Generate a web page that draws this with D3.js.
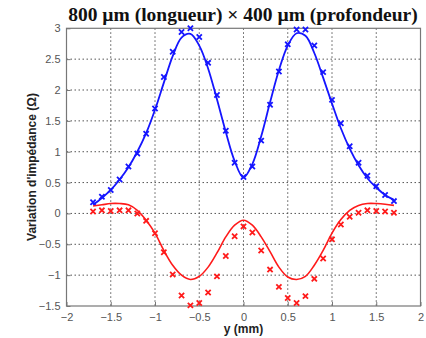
<!DOCTYPE html>
<html>
<head>
<meta charset="utf-8">
<script src="https://cdn.jsdelivr.net/npm/d3@7"></script>
<style>
html,body{margin:0;padding:0;background:#fff;}
svg{display:block;}
</style>
</head>
<body>
<svg id="chart" width="426" height="338"></svg>
<script>
const title = "800 µm (longueur) × 400 µm (profondeur)";
const xLabel = "y (mm)";
const yLabel = "Variation d'impédance (Ω)";
const xTicks = [-2, -1.5, -1, -0.5, 0, 0.5, 1, 1.5, 2];
const yTicks = [-1.5, -1, -0.5, 0, 0.5, 1, 1.5, 2, 2.5, 3];

const positions = [-1.7,-1.6,-1.5,-1.4,-1.3,-1.2,-1.1,-1.0,-0.9,-0.8,-0.7,-0.6,-0.5,-0.4,-0.3,-0.2,-0.1,0,
  0.1,0.2,0.3,0.4,0.5,0.6,0.7,0.8,0.9,1.0,1.1,1.2,1.3,1.4,1.5,1.6,1.7];

const blueMeasured = [0.18,0.27,0.38,0.55,0.76,0.97,1.29,1.70,2.21,2.62,2.94,3.0,2.86,2.44,1.92,1.34,0.82,0.59,
  0.76,1.18,1.76,2.30,2.74,2.98,2.98,2.72,2.29,1.84,1.46,1.09,0.82,0.61,0.44,0.30,0.20];
const blueModel = [0.14,0.25,0.38,0.55,0.75,1.0,1.3,1.68,2.12,2.55,2.85,2.91,2.72,2.35,1.85,1.32,0.85,0.58,
  0.8,1.25,1.8,2.32,2.72,2.92,2.88,2.6,2.2,1.78,1.38,1.05,0.78,0.57,0.42,0.3,0.22];

const redMeasured = [0.03,0.05,0.04,0.05,0.05,0.0,-0.12,-0.32,-0.63,-0.99,-1.33,-1.49,-1.45,-1.28,-1.02,-0.69,-0.37,-0.21,
  -0.31,-0.60,-0.91,-1.19,-1.37,-1.45,-1.34,-1.06,-0.73,-0.42,-0.18,-0.055,0.01,0.05,0.04,0.03,0.01];
const redModel = [0.12,0.14,0.16,0.16,0.14,0.05,-0.11,-0.32,-0.60,-0.84,-1.0,-1.07,-1.02,-0.87,-0.64,-0.38,-0.19,-0.11,
  -0.19,-0.38,-0.62,-0.87,-1.03,-1.07,-1.02,-0.84,-0.60,-0.32,-0.10,0.05,0.13,0.16,0.16,0.15,0.13];

const svg = d3.select("#chart");
const m = {left: 66.5, right: 420.5, top: 28.3, bottom: 306};
const x = d3.scaleLinear().domain([-2, 2]).range([m.left, m.right]);
const y = d3.scaleLinear().domain([-1.5, 3]).range([m.bottom, m.top]);

const g = svg.append("g");
// grid
g.selectAll(".gx").data(xTicks.slice(1, -1)).join("line")
  .attr("x1", d => x(d)).attr("x2", d => x(d)).attr("y1", m.top).attr("y2", m.bottom)
  .attr("stroke", "#555").attr("stroke-width", 1).attr("stroke-dasharray", "1.5,2.5");
g.selectAll(".gy").data(yTicks.slice(1, -1)).join("line")
  .attr("y1", d => y(d)).attr("y2", d => y(d)).attr("x1", m.left).attr("x2", m.right)
  .attr("stroke", "#555").attr("stroke-width", 1).attr("stroke-dasharray", "1.5,2.5");

// frame
g.append("rect").attr("x", m.left).attr("y", m.top).attr("width", m.right - m.left).attr("height", m.bottom - m.top)
  .attr("fill", "none").attr("stroke", "#777").attr("stroke-width", 1.2);

// axes
const xAxis = d3.axisBottom(x).tickValues(xTicks).tickSize(-4).tickPadding(7).tickFormat(d3.format("~g"));
const yAxis = d3.axisLeft(y).tickValues(yTicks).tickSize(-4).tickPadding(6).tickFormat(d3.format("~g"));
const ax = svg.append("g").attr("transform", `translate(0,${m.bottom})`).call(xAxis);
const ay = svg.append("g").attr("transform", `translate(${m.left},0)`).call(yAxis);
[ax, ay].forEach(a => {
  a.select(".domain").remove();
  a.selectAll("line").attr("stroke", "#777");
  a.selectAll("text").attr("fill", "#555").style("font-family", "Liberation Sans, Arial, sans-serif").style("font-size", "11px");
});
ax.selectAll("text").attr("dy", "0.71em");

// lines
const line = d3.line().x(d => x(d[0])).y(d => y(d[1])).curve(d3.curveCatmullRom.alpha(0.5));
svg.append("path").datum(positions.map((p, i) => [p, blueModel[i]])).attr("d", line)
  .attr("fill", "none").attr("stroke", "#1515ff").attr("stroke-width", 1.8);
svg.append("path").datum(positions.map((p, i) => [p, redModel[i]])).attr("d", line)
  .attr("fill", "none").attr("stroke", "#ff1a1a").attr("stroke-width", 1.6);

// markers
function cross(sel, data, color) {
  const r = 2.6;
  sel.selectAll(null).data(data).join("path")
    .attr("d", d => `M${x(d[0]) - r},${y(d[1]) - r}L${x(d[0]) + r},${y(d[1]) + r}M${x(d[0]) - r},${y(d[1]) + r}L${x(d[0]) + r},${y(d[1]) - r}`)
    .attr("stroke", color).attr("stroke-width", 1.8).attr("fill", "none");
}
cross(svg.append("g"), positions.map((p, i) => [p, blueMeasured[i]]), "#1515ff");
cross(svg.append("g"), positions.map((p, i) => [p, redMeasured[i]]), "#ff1a1a");

// title and labels
svg.append("text").attr("x", 243).attr("y", 21).attr("text-anchor", "middle")
  .style("font-family", "Liberation Serif, Times New Roman, serif").style("font-weight", "bold").style("font-size", "19.5px")
  .attr("fill", "#111").text(title);
svg.append("text").attr("x", 243.5).attr("y", 333).attr("text-anchor", "middle")
  .style("font-family", "Liberation Sans, Arial, sans-serif").style("font-weight", "bold").style("font-size", "12px")
  .attr("fill", "#222").text(xLabel);
svg.append("text").attr("transform", "translate(36,167) rotate(-90)").attr("text-anchor", "middle")
  .style("font-family", "Liberation Sans, Arial, sans-serif").style("font-weight", "bold").style("font-size", "12px")
  .attr("fill", "#222").text(yLabel);
</script>
</body>
</html>
